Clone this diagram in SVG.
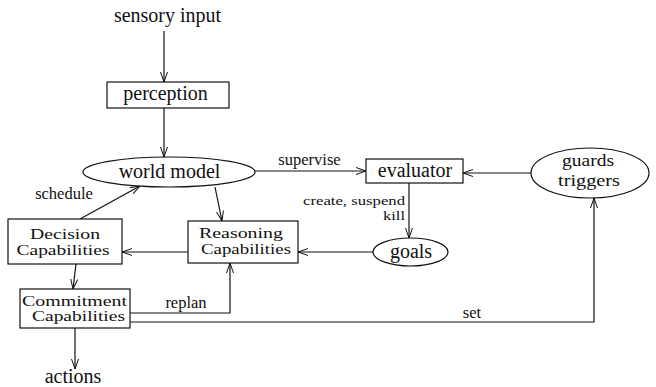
<svg xmlns="http://www.w3.org/2000/svg" width="656" height="387" viewBox="0 0 656 387">
<defs>
<marker id="a" viewBox="0 0 10 8" refX="10" refY="4" markerWidth="10" markerHeight="8" orient="auto" markerUnits="userSpaceOnUse">
<path d="M0,0.5 L10,4 L0,7.5" fill="none" stroke="#111" stroke-width="1"/>
</marker>
</defs>
<rect width="656" height="387" fill="#fff"/>
<g id="connectors" fill="none" stroke="#111" stroke-width="1.2">
<line x1="164" y1="31" x2="164" y2="82" marker-end="url(#a)"/>
<line x1="164" y1="108" x2="164" y2="157" marker-end="url(#a)"/>
<line x1="255" y1="171" x2="366" y2="171" marker-end="url(#a)"/>
<line x1="531" y1="173" x2="463" y2="173" marker-end="url(#a)"/>
<line x1="409" y1="183" x2="409" y2="238" marker-end="url(#a)"/>
<line x1="373" y1="252" x2="298" y2="252" marker-end="url(#a)"/>
<line x1="188" y1="252" x2="122" y2="252" marker-end="url(#a)"/>
<line x1="80" y1="219" x2="140" y2="186" marker-end="url(#a)"/>
<line x1="215" y1="187" x2="222" y2="221" marker-end="url(#a)"/>
<line x1="76" y1="264" x2="73" y2="289" marker-end="url(#a)"/>
<polyline points="130,313 230,313 230,263" marker-end="url(#a)"/>
<polyline points="130,322 594,322 594,198" marker-end="url(#a)"/>
<line x1="75" y1="328" x2="75" y2="369" marker-end="url(#a)"/>
</g>
<g id="connector-labels" font-family="Liberation Serif" font-size="16.5" fill="#111" stroke="none" text-anchor="middle">
<text x="309.5" y="165">supervise</text>
<text x="405" y="205" text-anchor="end" font-size="12.5" textLength="102" lengthAdjust="spacingAndGlyphs">create, suspend</text>
<text x="405" y="220" text-anchor="end" font-size="12.5" textLength="22" lengthAdjust="spacingAndGlyphs">kill</text>
<text x="64" y="199">schedule</text>
<text x="186" y="308">replan</text>
<text x="472" y="318">set</text>
</g>
<g font-family="Liberation Serif" font-size="20" text-anchor="middle">
<g id="sensory-input">
<text x="167.5" y="22" fill="#111">sensory input</text>
</g>
<g id="perception">
<rect x="107" y="82" width="122" height="26" fill="#fff" stroke="#111" stroke-width="1.2"/>
<text x="165.5" y="100" fill="#111">perception</text>
</g>
<g id="world-model">
<ellipse cx="169" cy="172" rx="86" ry="15" fill="#fff" stroke="#111" stroke-width="1.2"/>
<text x="169.5" y="178" fill="#111">world model</text>
</g>
<g id="evaluator">
<rect x="366" y="159" width="97" height="24" fill="#fff" stroke="#111" stroke-width="1.2"/>
<text x="415" y="177" fill="#111">evaluator</text>
</g>
<g id="guards-triggers" font-size="17">
<ellipse cx="590" cy="173" rx="59" ry="25" fill="#fff" stroke="#111" stroke-width="1.2"/>
<text x="588" y="166" fill="#111" textLength="52" lengthAdjust="spacingAndGlyphs">guards</text>
<text x="589" y="186" fill="#111" textLength="62" lengthAdjust="spacingAndGlyphs">triggers</text>
</g>
<g id="goals">
<ellipse cx="410.5" cy="252" rx="37.5" ry="14" fill="#fff" stroke="#111" stroke-width="1.2"/>
<text x="411" y="258" fill="#111">goals</text>
</g>
<g id="decision" font-size="15">
<rect x="8" y="219" width="114" height="45" fill="#fff" stroke="#111" stroke-width="1.2"/>
<text x="65" y="239" fill="#111" textLength="70" lengthAdjust="spacingAndGlyphs">Decision</text>
<text x="63" y="255" fill="#111" textLength="93" lengthAdjust="spacingAndGlyphs">Capabilities</text>
</g>
<g id="reasoning" font-size="15">
<rect x="188" y="221" width="110" height="42" fill="#fff" stroke="#111" stroke-width="1.2"/>
<text x="241" y="238" fill="#111" textLength="84" lengthAdjust="spacingAndGlyphs">Reasoning</text>
<text x="246" y="254" fill="#111" textLength="90" lengthAdjust="spacingAndGlyphs">Capabilities</text>
</g>
<g id="commitment" font-size="15">
<rect x="20" y="289" width="110" height="39" fill="#fff" stroke="#111" stroke-width="1.2"/>
<text x="74.5" y="306" fill="#111" textLength="105" lengthAdjust="spacingAndGlyphs">Commitment</text>
<text x="78.5" y="321" fill="#111" textLength="93" lengthAdjust="spacingAndGlyphs">Capabilities</text>
</g>
<g id="actions">
<text x="73" y="383" fill="#111">actions</text>
</g>
</g>
</svg>
